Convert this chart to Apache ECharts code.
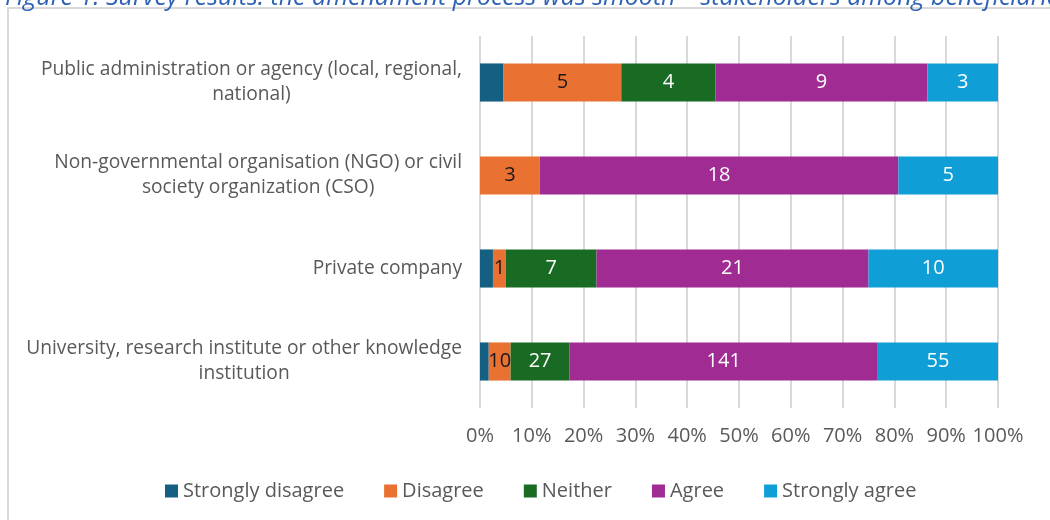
<!DOCTYPE html>
<html>
<head>
<meta charset="utf-8">
<script src="https://cdn.jsdelivr.net/npm/echarts@6/dist/echarts.min.js"></script>
<style>
html,body{margin:0;padding:0;background:#fff;}
#c{width:1050px;height:520px;}
</style>
</head>
<body>
<div id="c"></div>
<script>
const titleText = 'Figure 1: Survey results: the amendment process was smooth \u2013 stakeholders among beneficiaries';
const categories = [
  'Public administration or agency (local, regional,\nnational)',
  'Non-governmental organisation (NGO) or civil\nsociety organization (CSO)',
  'Private company',
  'University, research institute or other knowledge\ninstitution'
];
const seriesNames = ['Strongly disagree', 'Disagree', 'Neither', 'Agree', 'Strongly agree'];
const stronglyDisagree = [1, 0, 1, 4];
const disagree = [5, 3, 1, 10];
const neither = [4, 0, 7, 27];
const agree = [9, 18, 21, 141];
const stronglyAgree = [3, 5, 10, 55];
const xTickLabels = ['0%','10%','20%','30%','40%','50%','60%','70%','80%','90%','100%'];

const colors = ['#156082', '#E97132', '#196B24', '#A02B93', '#0F9ED5'];
const labelColors = [null, '#1a1a1a', '#ffffff', '#ffffff', '#ffffff'];
const allCounts = [stronglyDisagree, disagree, neither, agree, stronglyAgree];
const totals = categories.map((_, i) => allCounts.reduce((s, arr) => s + arr[i], 0));

const FONT = '"Open Sans", sans-serif';
const TXT = '#595959';

const series = allCounts.map((arr, si) => ({
  name: seriesNames[si],
  type: 'bar',
  stack: 'total',
  barWidth: '41%',
  itemStyle: { color: colors[si] },
  label: {
    show: si !== 0,
    position: 'inside',
    color: labelColors[si] || '#fff',
    fontSize: 20,
    fontFamily: FONT,
    formatter: p => (p.data.count > 0 ? String(p.data.count) : '')
  },
  data: arr.map((v, i) => ({ value: v / totals[i] * 100, count: v }))
}));

const chart = echarts.init(document.getElementById('c'), null, { renderer: 'canvas' });
chart.setOption({
  animation: false,
  color: colors,
  graphic: [
    {
      type: 'rect', shape: { x: 8, y: 8, width: 1200, height: 700 },
      style: { fill: 'none', stroke: '#d9d9d9', lineWidth: 2 }, silent: true
    },
    {
      type: 'text', left: 5, top: -15,
      style: { text: titleText, fill: '#2f62b5', fontSize: 25, fontStyle: 'italic', fontFamily: FONT }
    }
  ],
  grid: { left: 480, right: 52, top: 36, bottom: 112 },
  legend: {
    top: 476,
    left: 160,
    itemWidth: 13,
    itemHeight: 13,
    itemGap: 40,
    icon: 'rect',
    textStyle: { color: TXT, fontSize: 20, fontFamily: FONT },
    data: seriesNames
  },
  xAxis: {
    type: 'value',
    min: 0, max: 100, interval: 10,
    axisLine: { show: false },
    axisTick: { show: false },
    splitLine: { show: true, lineStyle: { color: '#d9d9d9', width: 2 } },
    axisLabel: {
      color: TXT, fontSize: 20, fontFamily: FONT, margin: 18,
      formatter: v => xTickLabels[Math.round(v / 10)]
    }
  },
  yAxis: {
    type: 'category',
    inverse: true,
    data: categories,
    axisLine: { show: false },
    axisTick: { show: false },
    axisLabel: {
      margin: 18,
      color: TXT,
      fontSize: 19.2,
      fontFamily: FONT,
      lineHeight: 25,
      formatter: v => v.split('\n').map(l => '{c|' + l + '}').join('\n'),
      rich: { c: { align: 'center', color: TXT, fontSize: 19.2, fontFamily: FONT, lineHeight: 25 } }
    }
  },
  series: series
});
</script>
</body>
</html>
